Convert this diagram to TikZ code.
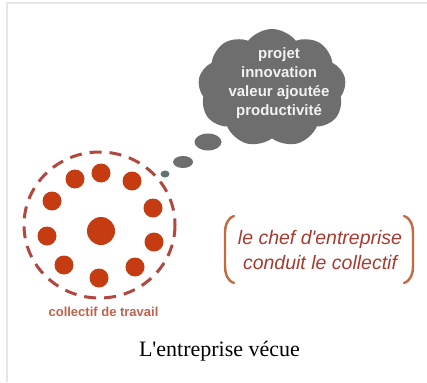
\documentclass[tikz,border=0pt]{standalone}
\usepackage{fontspec}
\setmainfont{Liberation Serif}[Ligatures=TeXOff]
\setsansfont{Liberation Sans}[Ligatures=TeXOff]
\usetikzlibrary{shapes.symbols,shapes.geometric}

\definecolor{framegrey}{HTML}{E6E6E6}
\definecolor{cloudgrey}{HTML}{6E6E6E}
\definecolor{cloudtext}{HTML}{F2F2F2}
\definecolor{bubbleteal}{HTML}{5E7474}
\definecolor{dotred}{HTML}{C63C12}
\definecolor{dashred}{HTML}{B2473F}
\definecolor{labelred}{HTML}{C2604C}
\definecolor{chefred}{HTML}{A83A30}
\definecolor{bracketbrown}{HTML}{C46A40}

\tikzset{
  dot/.style={circle,fill=dotred,inner sep=0pt,minimum size=19pt},
  bubble/.style={ellipse,fill=cloudgrey,inner sep=0pt},
  bracketline/.style={bracketbrown,line width=2.4pt,line cap=round},
}

\begin{document}
\begin{tikzpicture}[x=1pt,y=-1pt]
\useasboundingbox (0,0) rectangle (427,382);
\draw[framegrey,line width=2pt] (6.5,382) -- (6.5,3.5) -- (427,3.5);
%
% the thought
\node[cloud,cloud puffs=9,cloud puff arc=105,aspect=1.25,fill=cloudgrey,inner sep=0pt,
      minimum width=148pt,minimum height=118pt] (idees) at (272,88) {};
\node[text=cloudtext,align=center,
      font=\sffamily\bfseries\fontsize{15}{19}\selectfont] (ideestexte) at (279,83) {projet\\innovation\\valeur ajoutée\\productivité};
\node[bubble,minimum width=27pt,minimum height=17pt] (bulleA) at (208,142) {};
\node[bubble,minimum width=20pt,minimum height=12pt] (bulleB) at (183,162) {};
\node[bubble,fill=bubbleteal,minimum width=9pt,minimum height=7pt] (bulleC) at (165,174) {};
%
% the group
\draw[dashred,line width=3pt,dash pattern=on 12pt off 8pt] (99.5,225) ellipse [x radius=75.5,y radius=73];
\node[dot,minimum size=28pt] (chef) at (101,231) {};
\foreach \px/\py [count=\i] in {75/179,101/173,132/181,52/201,153/208,47/236,154/242,64/265,135/267,99/278}
  \node[dot] (membre\i) at (\px,\py) {};
\node[text=labelred,font=\sffamily\bfseries\fontsize{13}{15}\selectfont] (collectif) at (103.5,312) {collectif de travail};
%
% the bracketed note
\node[text=chefred,align=center,
      font=\sffamily\itshape\fontsize{19.5}{25}\selectfont] (note) at (320,250) {le chef d'entreprise\\conduit le collectif};
\draw[bracketline] (234,216) to[out=200,in=90] (225,233) -- (225,266) to[out=-90,in=160] (234,283);
\draw[bracketline] (404,216) to[out=-20,in=90] (413,233) -- (413,266) to[out=-90,in=20] (404,283);
%
\node[font=\fontsize{22}{26}\selectfont] (legende) at (219.5,351) {L'entreprise vécue};
\end{tikzpicture}
\end{document}
